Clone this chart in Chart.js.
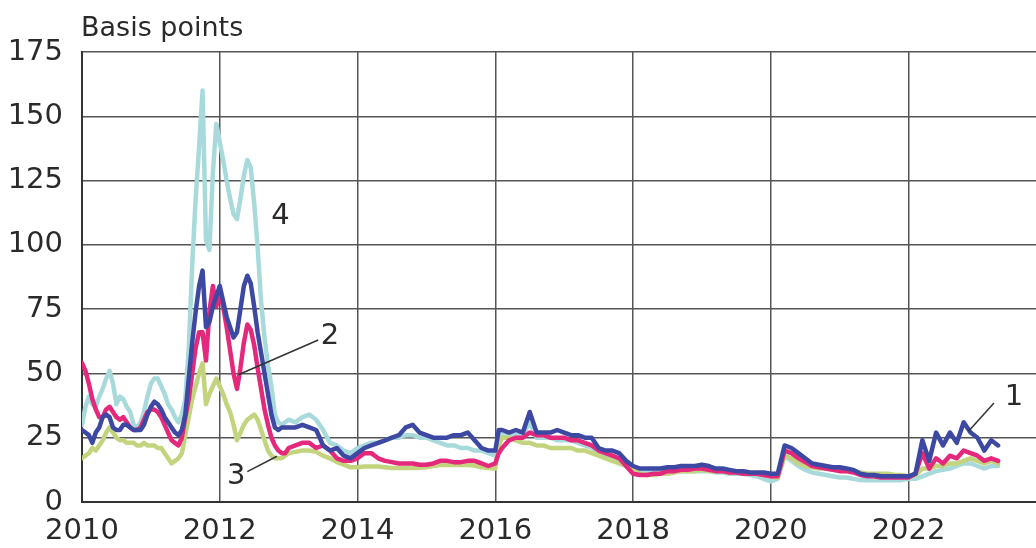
<!DOCTYPE html>
<html lang="en">

<head>
    <meta charset="UTF-8">
    <title>Basis points</title>
    <script src="https://cdn.jsdelivr.net/npm/chart.js"></script>
    <style>
        body { margin: 0; background: #fff; }
        #wrap { width: 1036px; height: 548px; }
    </style>
</head>

<body>
    <div id="wrap">
        <canvas id="spreadChart" width="1036" height="548"></canvas>
    </div>

    <script>
        // dates as decimal years
        const dates = [
            2010.00, 2010.05, 2010.10, 2010.15, 2010.20, 2010.25, 2010.30, 2010.35, 2010.40, 2010.45,
            2010.50, 2010.55, 2010.60, 2010.65, 2010.70, 2010.75, 2010.80, 2010.85, 2010.90, 2010.95,
            2011.00, 2011.05, 2011.10, 2011.15, 2011.20, 2011.25, 2011.30, 2011.35, 2011.40, 2011.45,
            2011.50, 2011.55, 2011.60, 2011.65, 2011.70, 2011.75, 2011.80, 2011.85, 2011.90, 2011.95,
            2012.00, 2012.05, 2012.10, 2012.15, 2012.20, 2012.25, 2012.30, 2012.35, 2012.40, 2012.45,
            2012.50, 2012.55, 2012.60, 2012.65, 2012.70, 2012.75, 2012.80, 2012.85, 2012.90, 2012.95,
            2013.0, 2013.1, 2013.2, 2013.3, 2013.4, 2013.5, 2013.6, 2013.7, 2013.8, 2013.9,
            2014.0, 2014.1, 2014.2, 2014.3, 2014.4, 2014.5, 2014.6, 2014.7, 2014.8, 2014.9,
            2015.0, 2015.1, 2015.2, 2015.3, 2015.4, 2015.5, 2015.6, 2015.7, 2015.8, 2015.9,
            2016.0, 2016.05, 2016.1, 2016.2, 2016.3, 2016.4, 2016.5, 2016.6, 2016.7, 2016.8, 2016.9,
            2017.0, 2017.1, 2017.2, 2017.3, 2017.4, 2017.5, 2017.6, 2017.7, 2017.8, 2017.9,
            2018.0, 2018.1, 2018.2, 2018.3, 2018.4, 2018.5, 2018.6, 2018.7, 2018.8, 2018.9,
            2019.0, 2019.1, 2019.2, 2019.3, 2019.4, 2019.5, 2019.6, 2019.7, 2019.8, 2019.9,
            2020.0, 2020.1, 2020.2, 2020.3, 2020.4, 2020.5, 2020.6, 2020.7, 2020.8, 2020.9,
            2021.0, 2021.1, 2021.2, 2021.3, 2021.4, 2021.5, 2021.6, 2021.7, 2021.8, 2021.9,
            2022.0, 2022.1, 2022.2, 2022.3, 2022.4, 2022.5, 2022.6, 2022.7, 2022.8, 2022.9,
            2023.0, 2023.1, 2023.2, 2023.3
        ];

        // series 1 (dark blue)
        const series1 = [
            28, 27, 26, 23, 27, 29, 33, 34, 33, 29,
            28, 28, 30, 30, 29, 28, 28, 28, 30, 34,
            37, 39, 38, 36, 33, 31, 29, 27, 26, 28,
            34, 48, 62, 74, 84, 90, 68, 70, 76, 80,
            84, 78, 72, 68, 64, 66, 75, 84, 88, 85,
            76, 66, 58, 50, 42, 34, 29, 28, 29, 29,
            29, 29, 30, 29, 28, 22, 20, 21, 18, 17,
            19, 21, 22, 23, 24, 25, 26, 29, 30, 27,
            26, 25, 25, 25, 26, 26, 27, 24, 21, 20,
            20, 28, 28, 27, 28, 27, 35, 27, 27, 27, 28,
            27, 26, 26, 25, 25, 21, 20, 20, 19, 16,
            14, 13, 13, 13, 13, 13.5, 13.5, 14, 14, 14,
            14.5, 14, 13, 13, 12.5, 12, 12, 11.5, 11.5, 11.5,
            11, 11, 22, 21, 19, 17, 15, 14.5, 14, 13.5,
            13.5, 13, 12.5, 11, 10.5, 10.5, 10, 10, 10, 10,
            10, 11, 24, 16, 27, 22, 27, 23, 31, 27,
            25, 20, 24, 22
        ];

        // series 2 (magenta)
        const series2 = [
            54, 51, 46, 40, 36, 33, 33, 36, 37, 35,
            33, 32, 33, 31, 29, 28, 28, 29, 32, 35,
            36, 36, 35, 33, 30, 27, 24, 23, 22, 25,
            33, 40, 50, 60, 66, 66, 55, 74, 84, 76,
            82, 76, 68, 59, 50, 44, 52, 62, 69, 67,
            61, 52, 44, 36, 30, 25, 22, 20, 19, 19,
            21, 22, 23, 23, 21, 22, 20, 17, 16, 16,
            17, 19, 19, 17, 16, 15.5, 15, 15, 15, 14.5,
            14.5, 15, 16, 16, 15.5, 15.5, 16, 16, 15, 14,
            15, 19, 21, 24, 25, 25, 27, 26, 26, 25, 25,
            25, 24, 24, 23, 22, 20, 19, 18, 17, 14,
            11, 10.5, 10.5, 11, 11, 12, 12, 12.5, 12.5, 13,
            13, 12.5, 12, 12, 11.5, 11.5, 11, 11, 11, 10.5,
            10, 10, 20, 19, 17, 15.5, 14, 13.5, 13, 12.5,
            12, 12, 11.5, 10.5, 10, 10, 9.5, 9.5, 9.5, 9.5,
            9.5, 11, 19, 13, 17, 15, 18, 17, 20, 19,
            18, 16, 17, 16
        ];

        // series 3 (yellow-green)
        const series3 = [
            17, 18, 19, 21, 20, 22, 24, 27, 29, 27,
            25, 24, 24, 23, 23, 23, 22, 22, 23, 22,
            22, 22, 21, 21, 19, 17, 15, 16, 17, 19,
            26, 33, 40, 45, 50, 54, 38, 42, 45, 48,
            45, 42, 38, 35, 30, 24, 27, 30, 32, 33,
            34, 32, 28, 24, 20, 18, 17, 17, 17, 18,
            19, 19.5, 20, 20, 19.5, 18, 17, 15.5, 14.5, 13.5,
            13.5, 13.8, 13.8, 13.8, 13.5, 13.2, 13.2, 13.2, 13.2, 13.3,
            13.5, 14, 14.4, 14.4, 14.4, 14.4, 14.4, 14.2, 13.5, 13.2,
            13, 22, 25, 25, 24, 23, 23, 22, 22, 21, 21,
            21, 21, 20, 20, 19, 18, 17, 16, 15, 14,
            12.5, 11, 10.5, 10.5, 11, 11, 11.5, 12, 12, 12,
            12.5, 12, 12, 12, 11.5, 11.5, 11.5, 11, 11, 10.5,
            10, 9.5, 18, 17, 15, 14, 13.5, 13, 13, 12.5,
            12.5, 12, 12, 11.5, 11, 11, 11, 11, 10.5, 10.5,
            10, 10.5, 13, 13, 14, 14, 15, 15, 16, 17,
            16, 15, 16, 15
        ];

        // series 4 (light cyan)
        const series4 = [
            30, 37, 41, 38, 37, 41, 44, 48, 51, 46,
            38, 41, 40, 37, 35, 30, 29, 31, 35, 41,
            46, 48, 48, 45, 42, 38, 36, 33, 31, 34,
            40, 60, 92, 118, 138, 160, 102, 98, 128, 147,
            140, 133, 125, 118, 112, 110, 118, 127, 133, 130,
            116, 99, 78, 64, 53, 45, 34, 31, 30, 31,
            32, 31, 33, 34, 32, 28, 23, 22, 20, 19,
            21, 22, 23, 23, 24, 25, 25, 26, 26, 25,
            25, 24, 23, 22, 22, 21, 21, 20, 20, 19,
            18, 27, 26, 26, 26, 26, 31, 25, 25, 25, 24,
            24, 24, 23, 22, 21, 19, 18, 17, 15, 14,
            13, 12.5, 12, 12, 12, 12, 12, 12, 12, 12,
            12, 12, 11.5, 11.5, 11, 11, 11, 10.5, 10, 9,
            8, 9, 18, 16, 14, 12.5, 11.5, 11, 10.5, 10,
            9.5, 9.5, 9, 8.5, 8.5, 8.5, 8.5, 8.5, 8.5, 8.5,
            9, 9, 10, 11, 12, 12.5, 13, 14, 15, 15,
            14, 13, 14, 14
        ];

        const xTicks = [2010, 2012, 2014, 2016, 2018, 2020, 2022];
        const yTicks = [0, 25, 50, 75, 100, 125, 150, 175];

        // series number labels: [text, x, y] and leader lines [x1, y1, x2, y2] in data units
        const seriesLabels = [
            ['1', 2023.53, 40.5],
            ['2', 2013.60, 64.5],
            ['3', 2012.24, 10],
            ['4', 2012.88, 111]
        ];
        const leaderLines = [
            [2023.24, 38.5, 2022.87, 27.5],
            [2013.43, 63, 2012.27, 49.5],
            [2012.40, 11.8, 2012.83, 17.8]
        ];

        const FONT = "'DejaVu Sans', sans-serif";
        const TEXT = '#2a2a2a';

        const toXY = (xs, ys) => xs.map((x, i) => ({ x: x, y: ys[i] }));

        const labelPlugin = {
            id: 'labels',
            afterDatasetsDraw(chart) {
                const ctx = chart.ctx;
                const xs = chart.scales.x, ys = chart.scales.y;
                ctx.save();
                ctx.strokeStyle = '#333';
                ctx.lineWidth = 1.5;
                leaderLines.forEach(l => {
                    ctx.beginPath();
                    ctx.moveTo(xs.getPixelForValue(l[0]), ys.getPixelForValue(l[1]));
                    ctx.lineTo(xs.getPixelForValue(l[2]), ys.getPixelForValue(l[3]));
                    ctx.stroke();
                });
                ctx.fillStyle = TEXT;
                ctx.font = '29px ' + FONT;
                ctx.textAlign = 'center';
                ctx.textBaseline = 'middle';
                seriesLabels.forEach(s => {
                    ctx.fillText(s[0], xs.getPixelForValue(s[1]), ys.getPixelForValue(s[2]));
                });
                // unit title above the plot
                ctx.font = '27px ' + FONT;
                ctx.textAlign = 'left';
                ctx.textBaseline = 'alphabetic';
                ctx.fillText('Basis points', chart.chartArea.left - 1, 36);
                ctx.restore();
            }
        };

        const ctx = document.getElementById('spreadChart').getContext('2d');
        new Chart(ctx, {
            type: 'line',
            data: {
                datasets: [
                    { label: '1', data: toXY(dates, series1), borderColor: '#3d48a3', order: 1 },
                    { label: '2', data: toXY(dates, series2), borderColor: '#e4297c', order: 2 },
                    { label: '3', data: toXY(dates, series3), borderColor: '#c3d47f', order: 3 },
                    { label: '4', data: toXY(dates, series4), borderColor: '#a9dadb', order: 4 }
                ]
            },
            options: {
                responsive: false,
                animation: false,
                layout: { padding: { top: 52, left: 0, right: 0, bottom: 0 } },
                elements: {
                    line: { borderWidth: 4.5, tension: 0, borderJoinStyle: 'round', borderCapStyle: 'round' },
                    point: { radius: 0 }
                },
                plugins: {
                    legend: { display: false },
                    tooltip: { enabled: false }
                },
                scales: {
                    x: {
                        type: 'linear',
                        min: 2010,
                        max: 2023.85,
                        afterBuildTicks: s => { s.ticks = xTicks.map(v => ({ value: v })); },
                        afterFit: s => { s.height = 46; },
                        grid: { color: '#555', lineWidth: 1.5, drawTicks: false },
                        border: { color: '#333', width: 2 },
                        ticks: {
                            padding: 12,
                            color: TEXT,
                            font: { family: FONT, size: 29 },
                            maxRotation: 0,
                            autoSkip: false,
                            callback: v => String(v)
                        }
                    },
                    y: {
                        min: 0,
                        max: 175,
                        afterBuildTicks: s => { s.ticks = yTicks.map(v => ({ value: v })); },
                        afterFit: s => { s.width = 82; },
                        grid: { color: '#555', lineWidth: 1.5, drawTicks: false },
                        border: { color: '#333', width: 2 },
                        ticks: {
                            padding: 19,
                            color: TEXT,
                            font: { family: FONT, size: 29 },
                            autoSkip: false
                        }
                    }
                }
            },
            plugins: [labelPlugin]
        });
    </script>
</body>

</html>
